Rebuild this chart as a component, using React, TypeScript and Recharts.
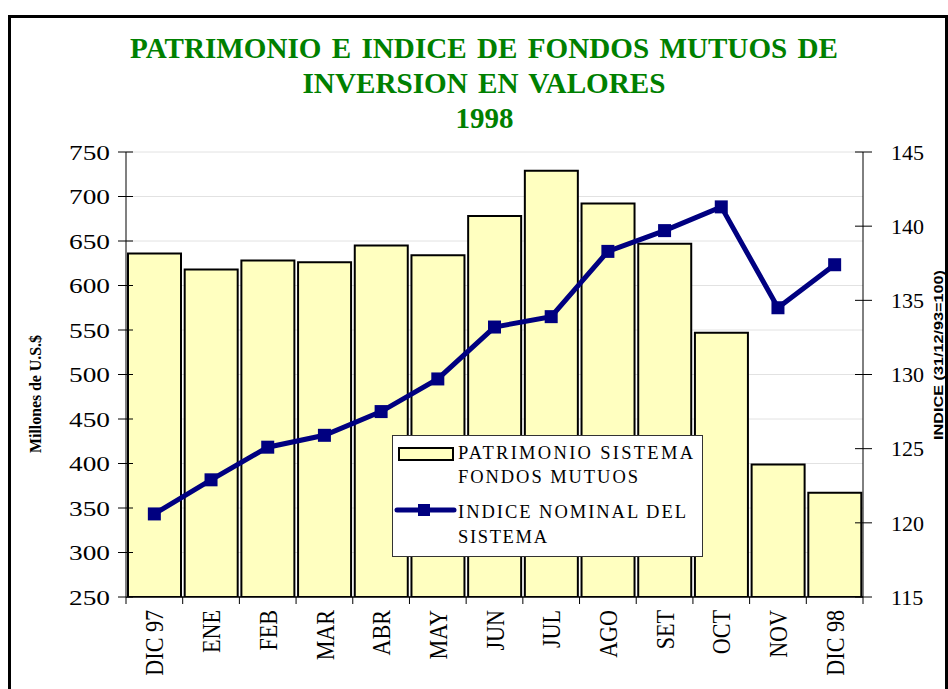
import React from "react";
import {
  ComposedChart,
  Bar,
  Line,
  XAxis,
  YAxis,
  CartesianGrid,
} from "recharts";

// ---- data ----
const categories = ["DIC 97", "ENE", "FEB", "MAR", "ABR", "MAY", "JUN", "JUL", "AGO", "SET", "OCT", "NOV", "DIC 98"];
const patrimonio = [636, 618, 628, 626, 645, 634, 678, 729, 692, 647, 547, 399, 367];
const indice = [120.6, 122.9, 125.1, 125.9, 127.5, 129.7, 133.2, 133.9, 138.3, 139.7, 141.3, 134.5, 137.4];
const leftTicks = [250, 300, 350, 400, 450, 500, 550, 600, 650, 700, 750];
const rightTicks = [115, 120, 125, 130, 135, 140, 145];

const titleLines = ["PATRIMONIO E INDICE DE FONDOS MUTUOS DE", "INVERSION EN VALORES", "1998"];
const leftAxisTitle = "Millones de U.S.$";
const rightAxisTitle = "INDICE (31/12/93=100)";
const legendBarLabel = ["PATRIMONIO SISTEMA", "FONDOS MUTUOS"];
const legendLineLabel = ["INDICE NOMINAL DEL", "SISTEMA"];

const data = categories.map((c, i) => ({ cat: c, pat: patrimonio[i], idx: indice[i] }));

// ---- layout ----
const W = 948;
const H = 689;
const PLOT_LEFT = 126;
const PLOT_RIGHT = 863;
const STEP = (PLOT_RIGHT - PLOT_LEFT) / categories.length;

const BAR_FILL = "#FFFFC0";
const NAVY = "#000080";
const GREEN = "#008000";
const SERIF = "'Liberation Serif', 'Times New Roman', serif";

const LeftTick = (props: any) => {
  const { x, y, payload } = props;
  return (
    <g>
      <line x1={x + 8} x2={x + 23} y1={y} y2={y} stroke="#000" strokeWidth={1} />
      <text
        x={x}
        y={y}
        dy="0.35em"
        textAnchor="end"
        fontFamily={SERIF}
        fontSize={22}
        fill="#000"
        textLength={41}
        lengthAdjust="spacingAndGlyphs"
      >
        {payload.value}
      </text>
    </g>
  );
};

const RightTick = (props: any) => {
  const { x, y, payload } = props;
  return (
    <g>
      <line x1={x - 36} x2={x - 19} y1={y} y2={y} stroke="#000" strokeWidth={1} />
      <text x={x} y={y} dy="0.35em" textAnchor="start" fontFamily={SERIF} fontSize={22} fill="#000">
        {payload.value}
      </text>
    </g>
  );
};

const BottomTick = (props: any) => {
  const { x, y, payload, index } = props;
  const last = index === categories.length - 1;
  return (
    <g>
      <line x1={x - STEP / 2} x2={x - STEP / 2} y1={y} y2={y + 7} stroke="#000" />
      {last && <line x1={x + STEP / 2} x2={x + STEP / 2} y1={y} y2={y + 7} stroke="#000" />}
      <g transform={`translate(${x},${y + 13}) rotate(-90) scale(0.85 1)`}>
        <text x={0} y={0} dy="0.35em" textAnchor="end" fontFamily={SERIF} fontSize={26} fill="#000">
          {payload.value}
        </text>
      </g>
    </g>
  );
};

const SquareDot = (props: any) => {
  const { cx, cy, index } = props;
  if (cx == null || cy == null) return <g key={index} />;
  return <rect key={index} x={cx - 6.5} y={cy - 6.5} width={13} height={13} fill={NAVY} />;
};

export default function App() {
  return (
    <div
      style={{
        position: "fixed",
        top: 0,
        left: 0,
        width: W,
        height: H,
        overflow: "hidden",
        background: "#fff",
      }}
    >
      <div
        style={{
          position: "absolute",
          left: 8,
          top: 15,
          width: W - 8,
          height: H + 20,
          border: "3px solid #000",
          boxSizing: "border-box",
        }}
      />
      <div style={{ position: "absolute", left: 0, top: 0 }}>
        <ComposedChart
          width={W}
          height={H}
          data={data}
          margin={{ top: 152, right: 25, bottom: 12, left: 26 }}
          barCategoryGap={2}
        >
          <CartesianGrid yAxisId="left" vertical={false} stroke="#E2E2E2" strokeWidth={1} />
          <XAxis
            dataKey="cat"
            height={80}
            tick={<BottomTick />}
            tickLine={false}
            tickSize={0}
            tickMargin={0}
            interval={0}
            axisLine={{ stroke: "#000", strokeWidth: 1.5 }}
          />
          <YAxis
            yAxisId="left"
            orientation="left"
            width={100}
            domain={[250, 750]}
            ticks={leftTicks}
            interval={0}
            tick={<LeftTick />}
            tickLine={false}
            tickSize={8}
            tickMargin={8}
            axisLine={{ stroke: "#808080", strokeWidth: 2 }}
            allowDataOverflow
          />
          <YAxis
            yAxisId="right"
            orientation="right"
            width={60}
            domain={[115, 145]}
            ticks={rightTicks}
            interval={0}
            tick={<RightTick />}
            tickLine={false}
            tickSize={9}
            tickMargin={19}
            axisLine={{ stroke: "#000", strokeWidth: 1 }}
            allowDataOverflow
          />
          <Bar
            yAxisId="left"
            dataKey="pat"
            fill={BAR_FILL}
            stroke="#000"
            strokeWidth={2}
            isAnimationActive={false}
          />
          <Line
            yAxisId="right"
            dataKey="idx"
            stroke={NAVY}
            strokeWidth={5}
            dot={SquareDot}
            activeDot={false}
            isAnimationActive={false}
            type="linear"
          />
        </ComposedChart>
      </div>
      <svg width={W} height={H} style={{ position: "absolute", left: 0, top: 0, pointerEvents: "none" }}>
        <g fill={GREEN} fontFamily={SERIF} fontWeight="bold" fontSize={29} textAnchor="middle">
          <text x={484} y={58} style={{ wordSpacing: 3 }} textLength={708} lengthAdjust="spacingAndGlyphs">
            {titleLines[0]}
          </text>
          <text x={484} y={93} style={{ wordSpacing: 3 }} textLength={363} lengthAdjust="spacingAndGlyphs">
            {titleLines[1]}
          </text>
          <text x={484.5} y={128}>{titleLines[2]}</text>
        </g>
        <g transform="translate(41,394) rotate(-90)">
          <text x={0} y={0} textAnchor="middle" fontFamily={SERIF} fontWeight="bold" fontSize={16} fill="#000" textLength={118}>
            {leftAxisTitle}
          </text>
        </g>
        <g transform="translate(943,355) rotate(-90)">
          <text
            x={0}
            y={0}
            textAnchor="middle"
            fontFamily="'Liberation Sans', Arial, sans-serif"
            fontWeight="bold"
            fontSize={13}
            fill="#000"
            textLength={170}
            lengthAdjust="spacingAndGlyphs"
          >
            {rightAxisTitle}
          </text>
        </g>
        {/* legend */}
        <rect x={392.5} y={435.5} width={310} height={121} fill="#fff" stroke="#333" strokeWidth={1} />
        <rect x={399} y={448} width={54} height={12} fill={BAR_FILL} stroke="#000" strokeWidth={2} />
        <line x1={397} x2={454} y1={510} y2={510} stroke={NAVY} strokeWidth={5} strokeLinecap="round" />
        <rect x={418} y={504} width={12} height={12} fill={NAVY} />
        <g fontFamily={SERIF} fontSize={18.5} fill="#000">
          <text x={458} y={459} textLength={235}>{legendBarLabel[0]}</text>
          <text x={458} y={483} textLength={180}>{legendBarLabel[1]}</text>
          <text x={458} y={518} textLength={228}>{legendLineLabel[0]}</text>
          <text x={458} y={543} textLength={89}>{legendLineLabel[1]}</text>
        </g>
      </svg>
    </div>
  );
}
